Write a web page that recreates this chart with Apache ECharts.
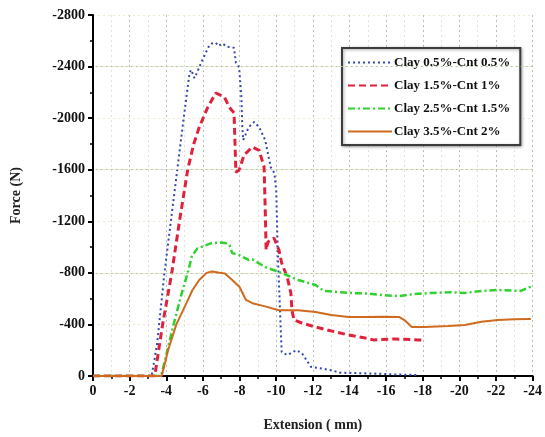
<!DOCTYPE html>
<html>
<head>
<meta charset="utf-8">
<script src="https://cdn.jsdelivr.net/npm/echarts@6/dist/echarts.min.js"></script>
<style>
  html, body { margin: 0; padding: 0; background: #fff; }
  #chart { width: 545px; height: 437px; }
</style>
</head>
<body>
<div id="chart"></div>
<script>
// Force vs. extension curves for four clay / CNT loadings
const seriesNames = ['Clay 0.5%-Cnt 0.5%', 'Clay 1.5%-Cnt 1%', 'Clay 2.5%-Cnt 1.5%', 'Clay 3.5%-Cnt 2%'];

const ext1 = [0, -1, -2, -3, -3.2, -3.5, -3.9, -4.25, -4.6, -4.95, -5.27, -5.36, -5.54, -5.7, -5.9, -6.1, -6.35, -6.5, -6.7, -6.85, -7.06, -7.3, -7.5, -7.7, -7.8, -7.98, -8.1, -8.15, -8.2, -8.5, -8.8, -9.07, -9.4, -9.7, -9.9, -10.0, -10.1, -10.25, -10.3, -10.6, -11.1, -11.4, -11.9, -12.3, -13.0, -13.5, -14.5, -15.5, -16.5, -17.75];
const force1 = [0, 0, 0, 0, 0, -250, -800, -1200, -1600, -2000, -2350, -2375, -2310, -2360, -2430, -2490, -2565, -2580, -2585, -2560, -2580, -2555, -2550, -2545, -2430, -2390, -2160, -1930, -1830, -1930, -1970, -1930, -1830, -1620, -1575, -1440, -900, -357, -186, -163, -200, -178, -70, -62, -45, -25, -22, -18, -12, -8];

const ext2 = [0, -1, -2, -3, -3.37, -3.8, -4.3, -4.72, -5.17, -5.5, -5.8, -6.25, -6.7, -7.17, -7.44, -7.7, -7.8, -7.98, -8.25, -8.7, -9.07, -9.34, -9.4, -9.45, -9.55, -9.72, -9.88, -10.15, -10.3, -10.6, -10.8, -10.86, -10.97, -11.4, -12.15, -13.25, -13.95, -14.85, -15.3, -16.5, -17.75, -18.1];
const force2 = [0, 0, 0, 0, 0, -400, -800, -1200, -1600, -1800, -1930, -2080, -2195, -2165, -2085, -2040, -1580, -1600, -1715, -1776, -1750, -1620, -1300, -977, -1040, -1055, -1070, -977, -876, -768, -644, -512, -434, -411, -380, -341, -318, -295, -280, -287, -280, -280];

const ext3 = [0, -1, -2, -3, -3.72, -4.4, -4.8, -5.17, -5.4, -5.7, -6.0, -6.46, -7.0, -7.27, -7.45, -7.6, -7.98, -8.5, -8.7, -9.4, -10.15, -11.2, -12.15, -12.6, -13.95, -15.0, -15.75, -16.7, -17.5, -18.5, -19.5, -20.3, -21.2, -22.1, -23.35, -24];
const force3 = [0, 0, 0, 0, 0, -400, -620, -800, -930, -990, -1005, -1030, -1035, -1030, -1015, -953, -938, -900, -905, -845, -807, -745, -706, -660, -644, -640, -628, -620, -635, -644, -650, -644, -660, -667, -660, -700];

const ext4 = [0, -1, -2, -3, -3.75, -4.1, -4.55, -5.1, -5.43, -5.8, -6.2, -6.5, -6.9, -7.2, -7.6, -8.0, -8.35, -8.7, -9.4, -10.15, -11.2, -12.15, -13.0, -13.95, -14.85, -15.8, -16.7, -17.0, -17.4, -18.1, -19.4, -20.3, -21.2, -22.1, -23.0, -23.9];
const force4 = [0, 0, 0, 0, 0, -200, -400, -565, -667, -745, -800, -810, -800, -795, -745, -690, -590, -565, -540, -510, -510, -497, -473, -458, -458, -460, -458, -434, -380, -380, -388, -395, -420, -434, -440, -442];

// Emphasised horizontal reference levels
const refForce = [-2400, -1600, -800];

const xTicks = { min: -24, max: 0, interval: 2 };
const yTicks = { min: -2800, max: 0, interval: 400 };

function pairs(xs, ys) { return xs.map((x, i) => [x, ys[i]]); }

const serif = '"Liberation Serif", "DejaVu Serif", serif';

const chart = echarts.init(document.getElementById('chart'), null, { renderer: 'canvas' });

const styles = [
  { color: '#3546b4', width: 2, type: [2, 3] },
  { color: '#e0213c', width: 3, type: [7, 4] },
  { color: '#2ed12e', width: 2.5, type: [7, 3, 2, 3] },
  { color: '#cf6a1f', width: 2, type: 'solid' }
];
const dataSets = [pairs(ext1, force1), pairs(ext2, force2), pairs(ext3, force3), pairs(ext4, force4)];

const series = dataSets.map((d, i) => ({
  name: seriesNames[i],
  type: 'line',
  data: d,
  symbol: 'none',
  smooth: false,
  z: 3 + i,
  lineStyle: { color: styles[i].color, width: styles[i].width, type: styles[i].type },
  itemStyle: { color: styles[i].color }
}));

// reference grid levels drawn beneath the curves
series.push({
  type: 'line',
  data: [],
  z: 1,
  silent: true,
  markLine: {
    symbol: 'none',
    silent: true,
    label: { show: false },
    lineStyle: { color: '#a9c79a', type: [2, 3], width: 1.2 },
    data: refForce.map(v => ({ yAxis: v }))
  }
});

chart.setOption({
  backgroundColor: '#ffffff',
  animation: false,
  grid: { left: 93, right: 10, top: 15, bottom: 61, containLabel: false },
  legend: {
    data: seriesNames,
    orient: 'vertical',
    left: 342,
    top: 48,
    width: 180,
    padding: [8, 10, 7, 5],
    itemGap: 10,
    itemWidth: 44,
    itemHeight: 12,
    itemStyle: { opacity: 0 },
    backgroundColor: '#ffffff',
    borderColor: '#3c3c3c',
    borderWidth: 2,
    shadowColor: 'rgba(0,0,0,0.35)',
    shadowBlur: 3,
    shadowOffsetX: 1,
    shadowOffsetY: 1,
    textStyle: { fontFamily: serif, fontWeight: 'bold', fontSize: 13, color: '#111', padding: [0, 0, 0, -3] }
  },
  xAxis: {
    type: 'value',
    inverse: true,
    min: xTicks.min,
    max: xTicks.max,
    interval: xTicks.interval,
    name: 'Extension ( mm)',
    nameLocation: 'middle',
    nameGap: 42,
    nameTextStyle: { fontFamily: serif, fontWeight: 'bold', fontSize: 14, color: '#222' },
    axisLine: { onZero: false, lineStyle: { color: '#000', width: 2 } },
    axisTick: { show: true, length: 5, lineStyle: { color: '#000', width: 2 } },
    minorTick: { show: true, splitNumber: 2, length: 3, lineStyle: { color: '#000', width: 1.5 } },
    axisLabel: { fontFamily: serif, fontWeight: 'bold', fontSize: 14, color: '#111', margin: 8, formatter: v => String(v) },
    splitLine: { show: true, lineStyle: { color: '#b9c2ad', type: [2, 3], width: 1 } },
    minorSplitLine: { show: true, lineStyle: { color: '#dfe3d2', type: [2, 3], width: 1 } }
  },
  yAxis: {
    type: 'value',
    inverse: true,
    min: yTicks.min,
    max: yTicks.max,
    interval: yTicks.interval,
    name: 'Force (N)',
    nameLocation: 'middle',
    nameGap: 70,
    nameTextStyle: { fontFamily: serif, fontWeight: 'bold', fontSize: 14, color: '#222' },
    axisLine: { onZero: false, lineStyle: { color: '#000', width: 2 } },
    axisTick: { show: true, length: 5, lineStyle: { color: '#000', width: 2 } },
    minorTick: { show: true, splitNumber: 2, length: 3, lineStyle: { color: '#000', width: 1.5 } },
    axisLabel: { fontFamily: serif, fontWeight: 'bold', fontSize: 14, color: '#111', margin: 8, formatter: v => String(v) },
    splitLine: { show: true, lineStyle: { color: '#efe9cf', type: [2, 3], width: 1 } },
    minorSplitLine: { show: false }
  },
  series: series
});
</script>
</body>
</html>
